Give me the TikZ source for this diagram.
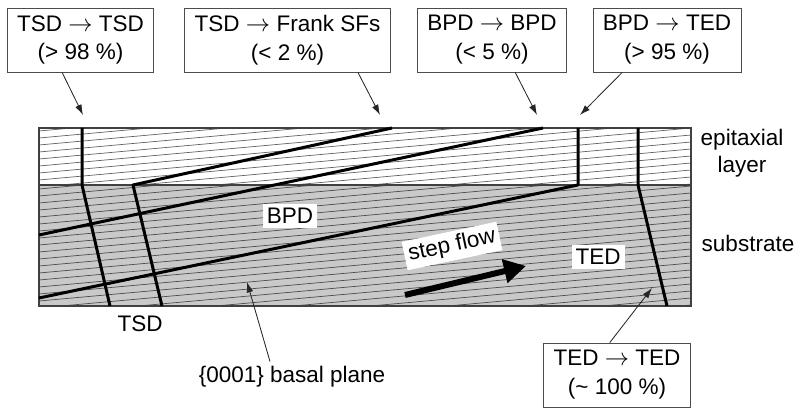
\documentclass[tikz,border=0pt]{standalone}
\usepackage{fontspec}
\setmainfont{Liberation Sans}
\usetikzlibrary{arrows.meta}

\tikzset{
  infobox/.style={draw=black!70, line width=0.6pt, fill=white, align=center,
    minimum height=1.6cm, inner xsep=0.25cm, font=\fontsize{16}{20.5}\selectfont},
  tag/.style={fill=white, inner sep=0.1cm, font=\fontsize{16}{19}\selectfont},
  plain/.style={align=center, font=\fontsize{16}{19}\selectfont},
  pointer/.style={line width=0.6pt, color=black!85, -{Latex[length=2.6mm, width=1.7mm]}},
  defect/.style={line width=0.75mm, color=black, line join=round},
  hatch/.style={line width=0.5pt, color=black!62},
}

\begin{document}
\begin{tikzpicture}[x=0.025cm, y=-0.025cm]
		%%%%% START %%%%%
		\useasboundingbox (0, 0) rectangle (800, 411);
		
		% substrate and epitaxial layer
		\fill[black!21] (39, 185) rectangle (691, 306);
		\begin{scope}
			\clip (39, 128) rectangle (691, 185);
			\foreach \y in {131, 138, ..., 245} \draw[hatch] (39, \y) -- (691, \y-59);
		\end{scope}
		\begin{scope}
			\clip (39, 185) rectangle (691, 306);
			\foreach \y in {189, 196, ..., 368} \draw[hatch, color=black!70] (39, \y) -- (691, \y-59);
		\end{scope}
		\draw[line width=0.8pt, color=black!75] (39, 185) -- (691, 185);
		\draw[line width=1pt, color=black!75] (39, 128) rectangle (691, 306);
		
		% dislocations
		\draw[defect] (82, 128) -- (82, 185) -- (110, 306);
		\draw[defect] (392, 128) -- (133, 185) -- (162, 306);
		\draw[defect] (39, 235) -- (543, 128);
		\draw[defect] (39, 298) -- (578, 185) -- (578, 128);
		\draw[defect] (638, 128) -- (638, 185) -- (667, 306);
		
		% labels in the wafer
		\node[tag] (bpd) at (290, 216) {BPD};
		\node[tag] (ted) at (598, 257) {TED};
		\node[tag, rotate=12] (flow) at (452, 246) {step flow};
		\coordinate (flowtail) at (405, 295);
		\coordinate (flowhead) at (526, 266);
		\draw[line width=0.15cm, -{Triangle[length=0.55cm, width=0.58cm]}] (flowtail) -- (flowhead);
		
		\node[plain] (epi) at (742, 153) {epitaxial\\layer};
		\node[plain] (sub) at (748, 243) {substrate};
		\node[plain] (tsd) at (140, 324) {TSD};
		\node[plain] (basal) at (292, 377) {\{0001\} basal plane};
		\coordinate (basaltip) at (247, 282);
		\draw[pointer] ([xshift=-0.55cm]basal.north) -- (basaltip);
		
		% conversion boxes
		\node[infobox] (tsdtsd) at (80.5, 40) {TSD $\rightarrow$ TSD\\(> 98 \%)};
		\node[infobox] (tsdfrank) at (287.5, 40) {TSD $\rightarrow$ Frank SFs\\(< 2 \%)};
		\node[infobox] (bpdbpd) at (492, 40) {BPD $\rightarrow$ BPD\\(< 5 \%)};
		\node[infobox] (bpdted) at (667, 40) {BPD $\rightarrow$ TED\\(> 95 \%)};
		\node[infobox] (tedted) at (617, 375) {TED $\rightarrow$ TED\\(\textasciitilde{} 100 \%)};
		
		\coordinate (tsdtip) at (83, 115);
		\coordinate (franktip) at (380, 115);
		\coordinate (bpdtip) at (537, 115);
		\coordinate (tedtip) at (580, 115);
		\coordinate (tedtedtip) at (652, 288);
		\draw[pointer] ([xshift=-0.46cm]tsdtsd.south) -- (tsdtip);
		\draw[pointer] ([xshift=1.76cm]tsdfrank.south) -- (franktip);
		\draw[pointer] ([xshift=0.58cm]bpdbpd.south) -- (bpdtip);
		\draw[pointer] ([xshift=-1.12cm]bpdted.south) -- (tedtip);
		\draw[pointer] ([xshift=-0.18cm]tedted.north) -- (tedtedtip);
		
		%%%%% END %%%%%
	\end{tikzpicture}
\end{document}
